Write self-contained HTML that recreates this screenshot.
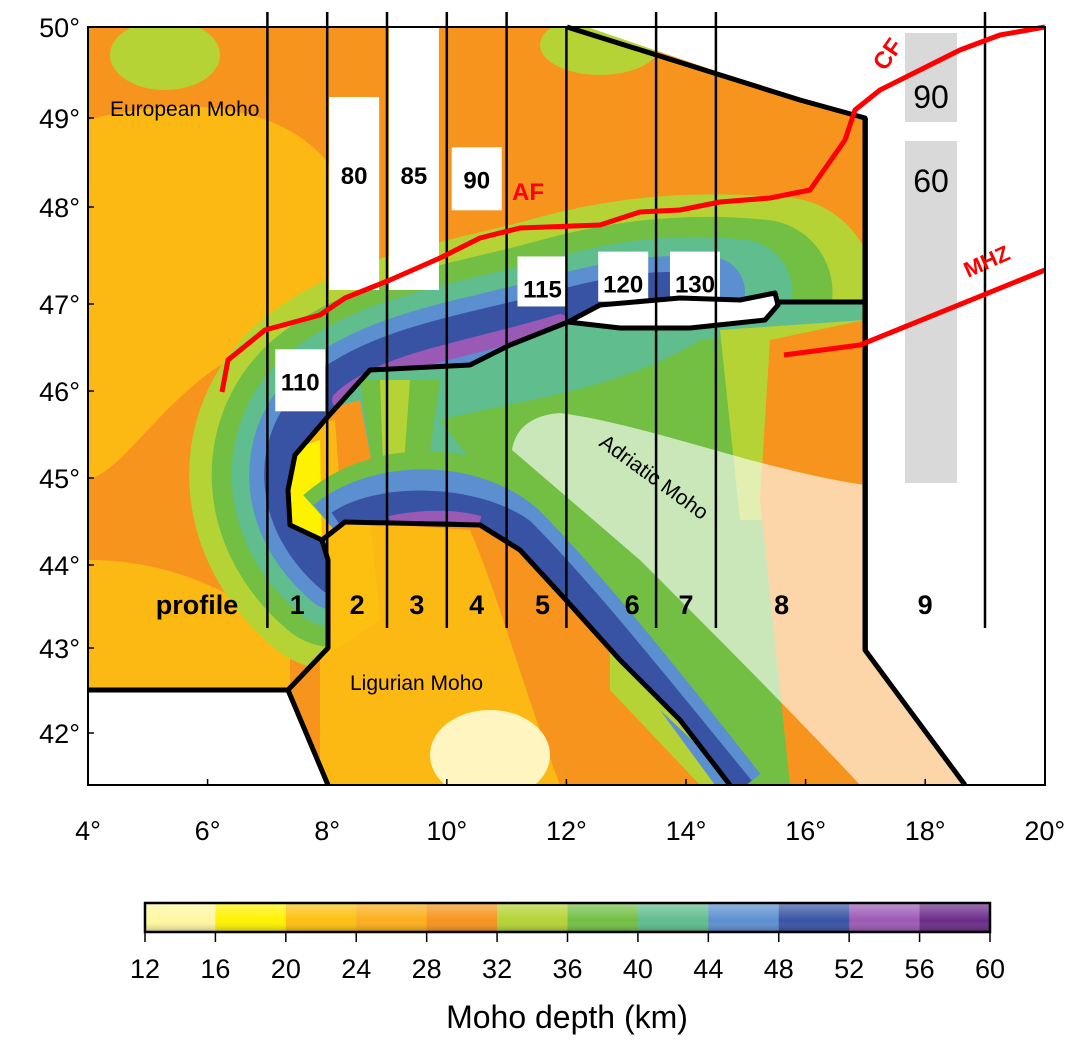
<!DOCTYPE html>
<html><head><meta charset="utf-8"><style>
body{margin:0;background:#fff;width:1082px;height:1050px;overflow:hidden}
svg{display:block;font-family:"Liberation Sans",Arial,sans-serif}
</style></head><body>
<svg id="s" width="1082" height="1050">
<defs>
<clipPath id="frame"><rect x="88" y="27" width="957" height="758"/></clipPath>
<clipPath id="inner"><polygon points="322,540 290,525 288,490 295,455 325,420 370,370 470,365 510,345 568,322 620,328 690,328 765,320 778,305 865,302 865,650 965,785 730,785 680,720 620,660 566,600 520,550 480,525 345,522"/></clipPath>
<clipPath id="lig"><polygon points="322,540 345,522 480,525 520,550 566,600 620,660 680,720 730,785 328,785 288,690 328,648 328,560"/></clipPath>
<linearGradient id="cbg" x1="0" y1="0" x2="0" y2="1"><stop offset="0" stop-color="#fff" stop-opacity="0.35"/><stop offset="0.6" stop-color="#fff" stop-opacity="0"/><stop offset="1" stop-color="#000" stop-opacity="0.25"/></linearGradient>
</defs>
<g clip-path="url(#frame)">
<rect x="88" y="27" width="957" height="758" fill="#f7941d"/>
<path d="M88,120 C200,90 300,110 340,180 L345,300 C300,330 250,340 200,380 C150,420 120,470 88,480 Z" fill="#fdb913"/>
<ellipse cx="165" cy="55" rx="55" ry="35" fill="#b5d334"/>
<ellipse cx="600" cy="45" rx="60" ry="30" fill="#b5d334"/>
<path d="M88,560 C180,560 250,600 290,640 L290,690 L88,690 Z" fill="#fdb913"/>
<g fill="none" stroke-linecap="round" stroke-linejoin="round">
<path d="M335,575 C270,520 270,440 320,395 C380,345 470,335 560,310 C650,285 720,288 780,292" stroke="#b5d334" stroke-width="190"/>
<path d="M335,575 C270,520 270,440 320,395 C380,345 470,335 560,310 C650,285 720,288 760,292" stroke="#72bf44" stroke-width="145"/>
<path d="M335,575 C270,520 270,440 320,395 C380,345 470,335 560,310 C650,285 700,288 740,292" stroke="#5fbd8e" stroke-width="105"/>
<path d="M335,575 C270,520 270,440 320,395 C380,345 470,335 560,310 C640,288 680,290 710,292" stroke="#5b8fd0" stroke-width="70"/>
<path d="M335,575 C270,520 270,440 320,395 C380,345 470,335 560,310 C620,294 650,292 670,292" stroke="#3953a4" stroke-width="40"/>
<path d="M340,400 C380,360 470,350 560,322" stroke="#9b59b6" stroke-width="16"/>
</g>
<g clip-path="url(#inner)">
<rect x="280" y="290" width="700" height="500" fill="#5fbd8e"/>
<path d="M440,420 C520,400 620,390 700,340 L865,320 L865,785 L720,785 Z" fill="#72bf44"/>
<path d="M720,330 L865,320 L865,520 L740,520 Z" fill="#b5d334"/>
<path d="M770,340 L865,320 L990,320 L990,785 L790,785 L760,500 Z" fill="#f7941d"/>
<path d="M290,420 L360,400 L390,560 L290,560 Z" fill="#f7941d"/>
<path d="M290,430 L335,420 L345,560 L290,560 Z" fill="#fdb913"/>
<path d="M290,450 L320,440 L322,560 L290,560 Z" fill="#fff200"/>
<path d="M360,380 L440,380 L420,520 L380,520 Z" fill="#72bf44"/>
<path d="M380,380 L410,380 L400,520 L385,520 Z" fill="#b5d334"/>
<path d="M512,450 C515,430 530,415 560,413 C650,425 760,470 865,485 L865,650 L965,785 L860,785 C800,720 700,620 640,560 Z" fill="#fff" fill-opacity="0.62"/>
<g fill="none" stroke-linejoin="round">
<path d="M330,525 C380,480 470,480 520,525 C580,585 660,685 740,790" stroke="#72bf44" stroke-width="80"/>
<path d="M330,525 C380,485 470,485 520,528 C580,588 660,688 740,790" stroke="#5b8fd0" stroke-width="52"/>
<path d="M340,525 C380,498 470,498 520,532 C580,592 660,692 740,790" stroke="#3953a4" stroke-width="30"/>
<path d="M390,521 C420,514 455,514 480,521" stroke="#9b59b6" stroke-width="10"/>
</g>
</g>
<g clip-path="url(#lig)">
<rect x="280" y="500" width="460" height="290" fill="#f7941d"/>
<path d="M320,520 L470,530 C500,600 520,680 560,785 L320,785 Z" fill="#fdb913"/>
<path d="M320,520 L370,520 L380,620 L320,660 Z" fill="#fdc010"/>
<ellipse cx="490" cy="755" rx="60" ry="45" fill="#fff5c0"/>
<path d="M610,650 L660,700 L740,785 L700,785 L610,690 Z" fill="#b5d334"/>
<path d="M660,710 L740,785 L715,785 Z" fill="#5b8fd0"/>
</g>
<polygon points="88,690 288,690 328,785 88,785" fill="#fff"/>
<polygon points="567,20 1045,20 1045,785 965,785 865,650 865,118 800,100" fill="#fff"/>
<polygon points="568,322 600,305 680,298 740,300 775,293 778,305 765,320 690,328 620,328" fill="#fff"/>
</g>
<rect x="905" y="33" width="52" height="89" fill="#d9d9d9"/>
<rect x="905" y="141" width="52" height="342" fill="#d9d9d9"/>
<text x="931" y="108" font-size="32" text-anchor="middle">90</text>
<text x="931" y="192" font-size="32" text-anchor="middle">60</text>
<g id="boxes"></g>
<g id="bound" fill="none" stroke="#000" stroke-width="5" stroke-linejoin="round">
<polyline points="88,690 288,690 328,785"/>
<polyline points="288,690 328,648 328,560 322,540 290,525 288,490 295,455 325,420 370,370 470,365 510,345 568,322 600,305 680,298 740,300 775,293 778,305 765,320 690,328 620,328 568,322"/>
<polyline points="322,540 345,522 480,525 520,550 566,600 620,660 680,720 730,785"/>
<polyline points="775,302 865,302"/>
<polyline points="567,27 800,100 865,118 865,650 965,785"/>
</g>
<g id="profiles"></g>
<g fill="none" stroke="#f00" stroke-width="5" stroke-linejoin="round">
<polyline points="222,392 228,360 265,330 320,315 345,298 390,280 440,258 480,238 520,228 600,225 640,212 680,210 720,202 770,198 810,190 845,140 855,110 880,90 920,70 960,50 1000,35 1045,27"/>
<polyline points="784,355 860,345 1045,270"/>
</g>
<text x="512" y="200" font-size="24" font-weight="bold" fill="#f00">AF</text>
<text x="885" y="72" font-size="24" font-weight="bold" fill="#f00" transform="rotate(-55 885 72)">CF</text>
<text x="968" y="278" font-size="22" font-weight="bold" fill="#f00" transform="rotate(-24 968 278)">MHZ</text>
<text x="110" y="116" font-size="21">European Moho</text>
<text x="350" y="690" font-size="21">Ligurian Moho</text>
<text x="598" y="445" font-size="21" transform="rotate(36 598 445)">Adriatic  Moho</text>
<rect x="88" y="27" width="957" height="758" fill="none" stroke="#000" stroke-width="2"/>
<g id="axes"></g>
<g id="cbar"></g>
<text x="567" y="1028" font-size="32" text-anchor="middle">Moho depth (km)</text>
</svg>
<script>
const profileLons=[7,8,9,10,11,12,13.5,14.5,17,19];
const profileNames=["1","2","3","4","5","6","7","8","9"];
const profileLabelLons=[7.5,8.5,9.5,10.5,11.6,13.1,14,15.6,18];
const lonTicks=[4,6,8,10,12,14,16,18,20];
const latTicks=[42,43,44,45,46,47,48,49,50];
const cbTicks=[12,16,20,24,28,32,36,40,44,48,52,56,60];
const cbColors=["#fff7a0","#fff200","#fdc010","#fbae1a","#f7941d","#b5d334","#72bf44","#5fbd8e","#5b8fd0","#3953a4","#9b59b6","#6a2c8a"];
const boxLabels=["80","85","90","110","115","120","130"];
const boxLon=[8.45,9.45,10.5,7.55,11.6,12.95,14.15];
const boxLat=[48.35,48.35,48.3,46.1,47.15,47.2,47.2];
const X=l=>88+(l-4)*59.8, Y=la=>{const ys=[733,648,565,478,391,304,207,118,27];const i=Math.min(7,Math.max(0,Math.floor(la-42)));return ys[i]+(ys[i+1]-ys[i])*(la-42-i);};
const NS="http://www.w3.org/2000/svg";
function mk(t,a,p,txt){const e=document.createElementNS(NS,t);for(const k in a)e.setAttribute(k,a[k]);if(txt!==undefined)e.textContent=txt;p.appendChild(e);return e;}
const pg=document.getElementById('profiles');
profileLons.forEach(l=>{const e=mk('line',{x1:X(l),x2:X(l),y1:l===17?118:(l===12?27:12),y2:l===17?650:628,stroke:'#000','stroke-width':l===17?5:2.5},pg);

});
let t=mk('text',{x:197,y:614,'font-size':27,'font-weight':'bold','text-anchor':'middle'},pg,'profile');


profileNames.forEach((n,i)=>{const e=mk('text',{x:X(profileLabelLons[i]),y:614,'font-size':27,'font-weight':'bold','text-anchor':'middle'},pg,n);

});
const bg=document.getElementById('boxes');
const bh=[193,278,63,62,50,50,50];
boxLabels.forEach((b,i)=>{const cx=X(boxLon[i]),cy=Y(boxLat[i]);
const top=i<2?(i===0?97:12):cy-33;
const r=mk('rect',{x:cx-25,y:top,width:50,height:bh[i],fill:'#fff'},bg);


const e=mk('text',{x:cx,y:cy+8,'font-size':24,'font-weight':'bold','text-anchor':'middle'},bg,b);

});
const ag=document.getElementById('axes');
lonTicks.forEach(l=>{mk('line',{x1:X(l),x2:X(l),y1:785,y2:779,stroke:'#000','stroke-width':1.5},ag);
const e=mk('text',{x:X(l),y:840,'font-size':27,'text-anchor':'middle'},ag,l+'°');

});
latTicks.forEach(la=>{mk('line',{x1:88,x2:94,y1:Y(la),y2:Y(la),stroke:'#000','stroke-width':1.5},ag);
const e=mk('text',{x:80,y:Y(la)+10,'font-size':27,'text-anchor':'end'},ag,la+'°');

});
const cg=document.getElementById('cbar');
const cx0=145,cw=845,n=cbColors.length,CX=v=>cx0+(v-cbTicks[0])/(cbTicks[n]-cbTicks[0])*cw;
cbColors.forEach((c,i)=>{const r=mk('rect',{x:CX(cbTicks[i]),y:903,width:CX(cbTicks[i+1])-CX(cbTicks[i])+0.5,height:29,fill:c},cg);

});
mk('rect',{x:cx0,y:903,width:cw,height:29,fill:'url(#cbg)'},cg);
mk('rect',{x:cx0,y:903,width:cw,height:29,fill:'none',stroke:'#000','stroke-width':2.5},cg);
cbTicks.forEach(v=>{mk('line',{x1:CX(v),x2:CX(v),y1:932,y2:942,stroke:'#000','stroke-width':1.5},cg);
const e=mk('text',{x:CX(v),y:978,'font-size':27,'text-anchor':'middle'},cg,v);

});
</script>
</body></html>
